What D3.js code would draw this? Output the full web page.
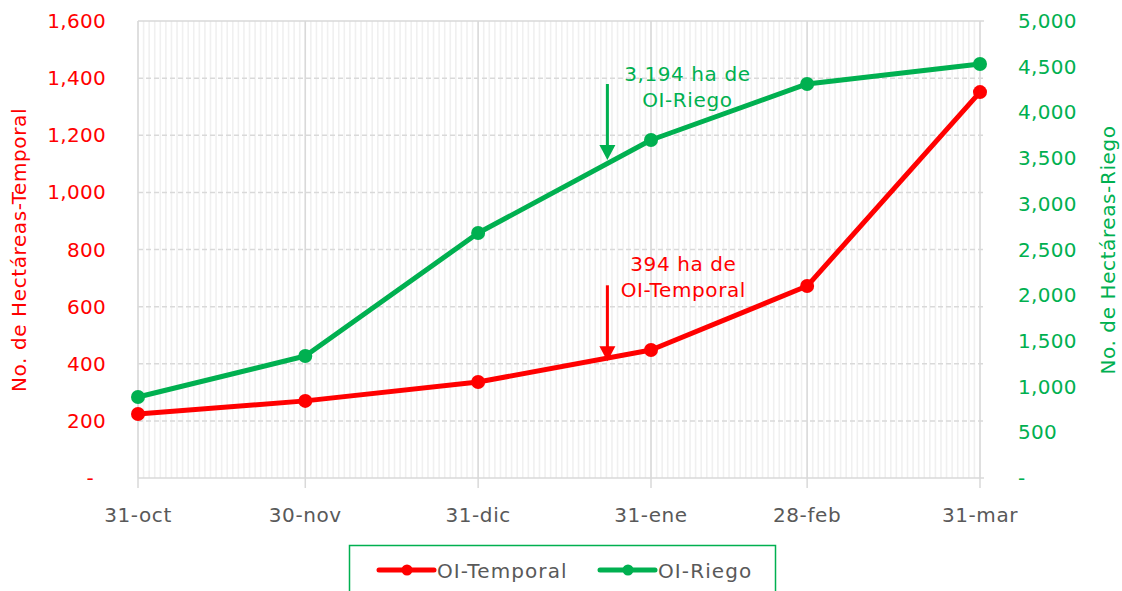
<!DOCTYPE html>
<html><head><meta charset="utf-8">
<script src="https://cdn.jsdelivr.net/npm/d3@7"></script>
<style>body{margin:0;background:#fff}svg{display:block}</style>
</head><body>
<svg id="c" width="1122" height="591"></svg>
<script>
const dates = ["2020-10-31","2020-11-30","2020-12-31","2021-01-31","2021-02-28","2021-03-31"];
const dateLabels = ["31-oct","30-nov","31-dic","31-ene","28-feb","31-mar"];
const temporal = [224, 270, 336, 448, 672, 1351];
const riego = [886, 1335, 2680, 3698, 4311, 4530];
const leftTicks = [0,200,400,600,800,1000,1200,1400,1600];
const rightTicks = [0,500,1000,1500,2000,2500,3000,3500,4000,4500,5000];
const seriesNames = ["OI-Temporal","OI-Riego"];
const annotations = [
  {date:"2021-01-23", lines:["3,194 ha de","OI-Riego"], series:1},
  {date:"2021-01-23", lines:["394 ha de","OI-Temporal"], series:0}
];

const RED="#ff0000", GREEN="#00b050", GRAY="#595959";
const FONT="'DejaVu Sans', sans-serif";
const svg=d3.select("#c");
const parse=d3.utcParse("%Y-%m-%d");
const D=dates.map(parse);
const x=d3.scaleUtc().domain([D[0],D[D.length-1]]).range([138,980]);
const yL=d3.scaleLinear().domain([0,1600]).range([478,21]);
const yR=d3.scaleLinear().domain([0,5000]).range([478,21]);

// minor daily gridlines
const days=d3.utcDay.range(D[0], d3.utcDay.offset(D[D.length-1],1));
svg.append("g").selectAll("line").data(days).join("line")
  .attr("x1",d=>x(d)).attr("x2",d=>x(d)).attr("y1",21).attr("y2",478)
  .attr("stroke","#f0f0f0").attr("stroke-width",1.6);
// horizontal gridlines
svg.append("g").selectAll("line").data(leftTicks.slice(1)).join("line")
  .attr("x1",138).attr("x2",984).attr("y1",d=>yL(d)).attr("y2",d=>yL(d))
  .attr("stroke","#d9d9d9").attr("stroke-width",1.5)
  .attr("stroke-dasharray",d=>d===1600?null:"5,3");
// major vertical gridlines + ticks
svg.append("g").selectAll("line").data(D).join("line")
  .attr("x1",d=>x(d)).attr("x2",d=>x(d)).attr("y1",21).attr("y2",488)
  .attr("stroke","#d9d9d9").attr("stroke-width",1.5);
// x axis line
svg.append("line").attr("x1",138).attr("x2",984).attr("y1",478).attr("y2",478)
  .attr("stroke","#d9d9d9").attr("stroke-width",1.5);

// x labels
svg.append("g").selectAll("text").data(D).join("text")
  .attr("x",d=>x(d)).attr("y",522).attr("text-anchor","middle")
  .attr("font-family",FONT).attr("font-size",20).attr("letter-spacing",0.6).attr("fill",GRAY)
  .text((d,i)=>dateLabels[i]);

const fmt=d3.format(",");
// left ticks
svg.append("g").selectAll("text").data(leftTicks).join("text")
  .attr("x",d=>d===0?94:106).attr("y",d=>yL(d)+7).attr("text-anchor","end")
  .attr("font-family",FONT).attr("font-size",20).attr("letter-spacing",0.3).attr("fill",RED)
  .text(d=>d===0?"-":fmt(d));
// right ticks
svg.append("g").selectAll("text").data(rightTicks).join("text")
  .attr("x",1018).attr("y",d=>yR(d)+7).attr("text-anchor","start")
  .attr("font-family",FONT).attr("font-size",20).attr("letter-spacing",0.3).attr("fill",GREEN)
  .text(d=>d===0?"-":fmt(d));

// axis titles
svg.append("text").attr("transform","translate(26,250) rotate(-90)")
  .attr("text-anchor","middle").attr("font-family",FONT).attr("font-size",20).attr("letter-spacing",0.6).attr("fill",RED)
  .text("No. de Hectáreas-Temporal");
svg.append("text").attr("transform","translate(1115,250) rotate(-90)")
  .attr("text-anchor","middle").attr("font-family",FONT).attr("font-size",20).attr("letter-spacing",0.6).attr("fill",GREEN)
  .text("No. de Hectáreas-Riego");

// lines
const series=[{v:temporal,y:yL,c:RED},{v:riego,y:yR,c:GREEN}];
series.forEach(s=>{
  const line=d3.line().x((d,i)=>x(D[i])).y(d=>s.y(d));
  svg.append("path").datum(s.v).attr("d",line).attr("fill","none")
    .attr("stroke",s.c).attr("stroke-width",5).attr("stroke-linejoin","round");
  svg.append("g").selectAll("circle").data(s.v).join("circle")
    .attr("cx",(d,i)=>x(D[i])).attr("cy",d=>s.y(d)).attr("r",7).attr("fill",s.c);
});

// annotations (layout: tip offset from line, text baseline offset from tip, text x offset)
const annLayout=[{tip:-4,text:79,dx:80},{tip:3,text:90,dx:76}];
annotations.forEach((a,ai)=>{
  const L=annLayout[ai];
  const s=series[a.series];
  const dd=parse(a.date);
  const ax=x(dd)+1;
  const i=d3.bisectLeft(D,dd);
  const t=(dd-D[i-1])/(D[i]-D[i-1]);
  const yv=s.v[i-1]+(s.v[i]-s.v[i-1])*t;
  const tipY=s.y(yv)+L.tip;
  const topY=tipY-76;
  svg.append("line").attr("x1",ax).attr("x2",ax).attr("y1",topY).attr("y2",tipY-12)
    .attr("stroke",s.c).attr("stroke-width",3);
  svg.append("path").attr("d",`M${ax-8},${tipY-15}L${ax+8},${tipY-15}L${ax},${tipY}Z`).attr("fill",s.c);
  const tx=ax+L.dx;
  const by=tipY-L.text;
  a.lines.forEach((l,k)=>{
    svg.append("text").attr("x",tx).attr("y",by+k*26).attr("text-anchor","middle")
      .attr("font-family",FONT).attr("font-size",20).attr("letter-spacing",0.6).attr("fill",s.c).text(l);
  });
});

// legend
svg.append("rect").attr("x",349.5).attr("y",545.5).attr("width",426).attr("height",60)
  .attr("fill","#fff").attr("stroke",GREEN).attr("stroke-width",1.5);
const leg=[{x:379,c:RED},{x:600,c:GREEN}];
leg.forEach((l,i)=>{
  svg.append("line").attr("x1",l.x).attr("x2",l.x+55).attr("y1",570).attr("y2",570)
    .attr("stroke",l.c).attr("stroke-width",5).attr("stroke-linecap","round");
  svg.append("circle").attr("cx",l.x+28).attr("cy",570).attr("r",5.5).attr("fill",l.c);
  svg.append("text").attr("x",l.x+58).attr("y",578).attr("font-family",FONT)
    .attr("font-size",20).attr("letter-spacing",1.1).attr("fill",GRAY).text(seriesNames[i]);
});
</script>
</body></html>
